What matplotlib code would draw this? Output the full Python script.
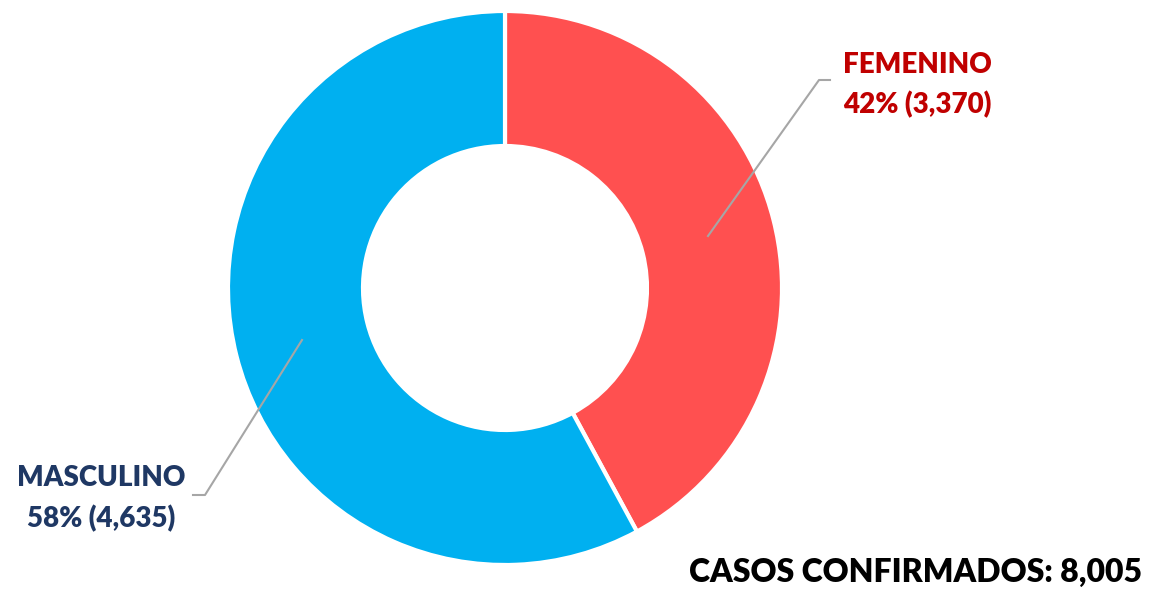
import matplotlib.pyplot as plt

labels = ["FEMENINO", "MASCULINO"]
casos = [3370, 4635]
porcentajes = [42, 58]
colores = ["#FF5050", "#00B0F0"]
colores_texto = ["#C00000", "#1F3864"]
total = 8005

plt.rcParams['font.family'] = ['Lato', 'DejaVu Sans']

W, H = 1168, 592
fig = plt.figure(figsize=(W / 100, H / 100), dpi=100)
ax = fig.add_axes([0, 0, 1, 1])

cx, cy = 505, H - 288
ax.pie(casos, colors=colores, startangle=90, counterclock=False,
       radius=277, center=(cx, cy), frame=True,
       wedgeprops=dict(width=135, edgecolor='white', linewidth=3))
ax.set_xlim(0, W)
ax.set_ylim(0, H)
ax.set_aspect('equal')
ax.axis('off')

# lineas guia
ax.plot([708, 819, 830], [H - 236, H - 80, H - 80], color='#A6A6A6', lw=1.5)
ax.plot([302, 205, 193], [H - 340, H - 495, H - 495], color='#A6A6A6', lw=1.5)

# etiquetas (cada linea por separado)
pos = [(917, 73, 113), (101, 486, 527)]
for i in range(len(labels)):
    x, y1, y2 = pos[i]
    ax.text(x, H - y1, labels[i], ha='center', va='baseline', fontsize=20,
            fontweight='heavy', color=colores_texto[i])
    ax.text(x, H - y2, "{}% ({:,})".format(porcentajes[i], casos[i]),
            ha='center', va='baseline', fontsize=20,
            fontweight='heavy', color=colores_texto[i])

ax.text(1142, H - 582, "CASOS CONFIRMADOS: {:,}".format(total),
        ha='right', va='baseline', fontsize=23, fontweight='heavy', color='black')

fig.savefig("out.png", dpi=100)
